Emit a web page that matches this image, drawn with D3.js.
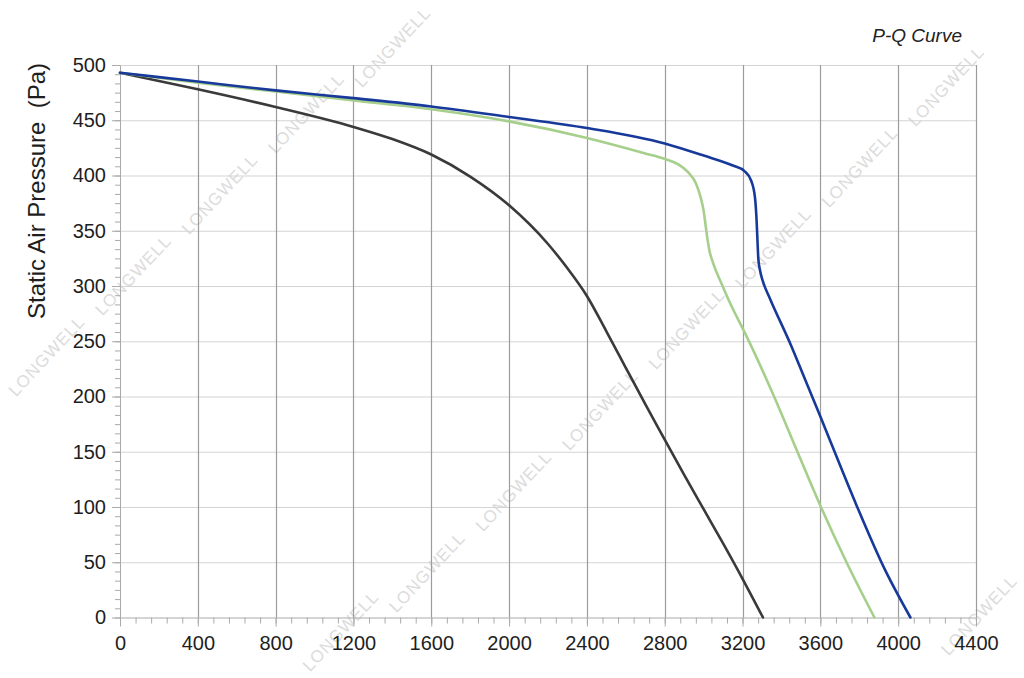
<!DOCTYPE html>
<html>
<head>
<meta charset="utf-8">
<script src="https://cdn.jsdelivr.net/npm/d3@7"></script>
<style>
  html, body { margin: 0; padding: 0; background: #fff; }
  svg { display: block; font-family: "Liberation Sans", Arial, Helvetica, sans-serif; }
</style>
</head>
<body>
<svg id="chart" width="1024" height="678"></svg>
<script>
// ---- data ----
const chartTitle = "P-Q Curve";
const yTitle = "Static Air Pressure  (Pa)";
const xTicks = [0, 400, 800, 1200, 1600, 2000, 2400, 2800, 3200, 3600, 4000, 4400];
const yTicks = [0, 50, 100, 150, 200, 250, 300, 350, 400, 450, 500];

const blackQ = [0, 400, 800, 1200, 1400, 1600, 1800, 2000, 2200, 2300, 2400, 2500, 2600, 2700, 2800, 2900, 3000, 3100, 3200, 3305];
const blackP = [493, 478, 462, 444, 433, 419, 399, 373, 338, 316, 291, 259, 226, 193, 161, 129, 98, 67, 35, 0];

const greenQ = [0, 400, 800, 1200, 1600, 2000, 2400, 2700, 2800, 2870, 2920, 2960, 2985, 3000, 3010, 3020, 3030, 3050, 3090, 3140, 3211, 3362, 3482, 3603, 3740, 3878];
const greenP = [493, 484, 476, 468, 460, 449, 434, 420, 415, 410, 403, 393, 380, 368, 355, 342, 332, 320, 303, 283, 258, 200, 150, 100, 48, 0];

const blueQ = [0, 400, 800, 1200, 1600, 2000, 2400, 2800, 3000, 3150, 3210, 3245, 3264, 3272, 3277, 3281, 3290, 3305, 3340, 3450, 3520, 3600, 3680, 3780, 3930, 4063];
const blueP = [493, 485, 477, 470, 462.5, 453, 443, 429, 418, 409, 404, 395, 380, 360, 340, 325, 314, 304, 289, 246, 216, 182, 147, 104, 44, 0];

const seriesColors = ["#3a3a3a", "#a6cf8b", "#17399a"];
const watermarkText = "LONGWELL";

// ---- layout ----
const W = 1024, H = 678;
const svg = d3.select("#chart");
const x = d3.scaleLinear().domain([0, 4400]).range([120, 976]);
const y = d3.scaleLinear().domain([0, 500]).range([617.5, 65]);

// watermark (repeated diagonally, kept inside the picture)
const wm = svg.append("g").attr("class", "watermark");
const step = [86.5, -81];
const rowStarts = [[306, 113], [600, 410], [985, 615]];
const hw = 45, hh = 47;
rowStarts.forEach(s => {
  for (let k = -6; k <= 6; k++) {
    let cx = s[0] + k * step[0], cy = s[1] + k * step[1];
    const ncx = Math.min(Math.max(cx, hw), W - hw);
    const ncy = Math.min(Math.max(cy, hh), H - hh);
    if (Math.abs(ncx - cx) > 22 || Math.abs(ncy - cy) > 22) continue;
    cx = ncx; cy = ncy;
    wm.append("text")
      .attr("transform", `translate(${cx},${cy}) rotate(-47)`)
      .attr("text-anchor", "middle")
      .attr("dy", "0.35em")
      .attr("font-size", 17)
      .attr("letter-spacing", 1)
      .attr("fill", "#dcdcdc")
      .text(watermarkText);
  }
});

// horizontal grid
svg.append("g")
  .selectAll("line").data(yTicks.filter(d => d > 0)).join("line")
  .attr("x1", x(0)).attr("x2", x(4400))
  .attr("y1", d => y(d) + 0.5).attr("y2", d => y(d) + 0.5)
  .attr("stroke", "#d4d4d4").attr("stroke-width", 1.2);

// vertical grid
svg.append("g")
  .selectAll("line").data(xTicks.filter(d => d > 0)).join("line")
  .attr("x1", d => Math.round(x(d)) + 0.5).attr("x2", d => Math.round(x(d)) + 0.5)
  .attr("y1", y(500)).attr("y2", y(0))
  .attr("stroke", "#9c9c9c").attr("stroke-width", 1.2);

// minor ticks
const yMinor = d3.range(0, 500.01, 50 / 6);
const xMinor = d3.range(0, 4400.01, 80);
svg.append("g").attr("transform", `translate(${x(0)},0)`)
  .call(d3.axisLeft(y).tickValues(yMinor).tickSize(5).tickFormat(""))
  .call(g => g.select(".domain").remove())
  .call(g => g.selectAll("line").attr("stroke", "#aaa"));
svg.append("g").attr("transform", `translate(0,${y(0)})`)
  .call(d3.axisBottom(x).tickValues(xMinor).tickSize(6).tickFormat(""))
  .call(g => g.select(".domain").remove())
  .call(g => g.selectAll("line").attr("stroke", "#aaa"));

// major axes
const fmt = d3.format("d");
svg.append("g").attr("transform", `translate(${x(0)},0)`)
  .call(d3.axisLeft(y).tickValues(yTicks).tickFormat(fmt).tickSize(8).tickPadding(6).tickSizeOuter(0))
  .call(g => g.select(".domain").attr("stroke", "#aaa"))
  .call(g => g.selectAll("line").attr("stroke", "#aaa"))
  .call(g => g.selectAll("text").attr("font-size", 20).attr("fill", "#1e1e1e")
    .attr("font-family", "'Liberation Sans', Arial, sans-serif"));
svg.append("g").attr("transform", `translate(0,${y(0)})`)
  .call(d3.axisBottom(x).tickValues(xTicks).tickFormat(fmt).tickSize(9).tickPadding(9).tickSizeOuter(0))
  .call(g => g.select(".domain").attr("stroke", "#aaa"))
  .call(g => g.selectAll("line").attr("stroke", "#aaa"))
  .call(g => g.selectAll("text").attr("font-size", 20).attr("fill", "#1e1e1e")
    .attr("font-family", "'Liberation Sans', Arial, sans-serif"));

// curves
const line = d3.line().x(d => x(d[0])).y(d => y(d[1])).curve(d3.curveMonotoneX);
const seriesData = [
  d3.zip(blackQ, blackP),
  d3.zip(greenQ, greenP),
  d3.zip(blueQ, blueP)
];
svg.append("g").selectAll("path").data(seriesData).join("path")
  .attr("d", line)
  .attr("fill", "none")
  .attr("stroke", (d, i) => seriesColors[i])
  .attr("stroke-width", 2.6)
  .attr("stroke-linejoin", "round")
  .attr("stroke-linecap", "round");

// titles
svg.append("text")
  .attr("transform", `translate(45,191) rotate(-90)`)
  .attr("text-anchor", "middle")
  .attr("font-size", 24)
  .attr("fill", "#1e1e1e")
  .style("white-space", "pre")
  .text(yTitle);

svg.append("text")
  .attr("x", 962).attr("y", 42)
  .attr("text-anchor", "end")
  .attr("font-size", 19)
  .attr("font-style", "italic")
  .attr("fill", "#222")
  .text(chartTitle);
</script>
</body>
</html>
